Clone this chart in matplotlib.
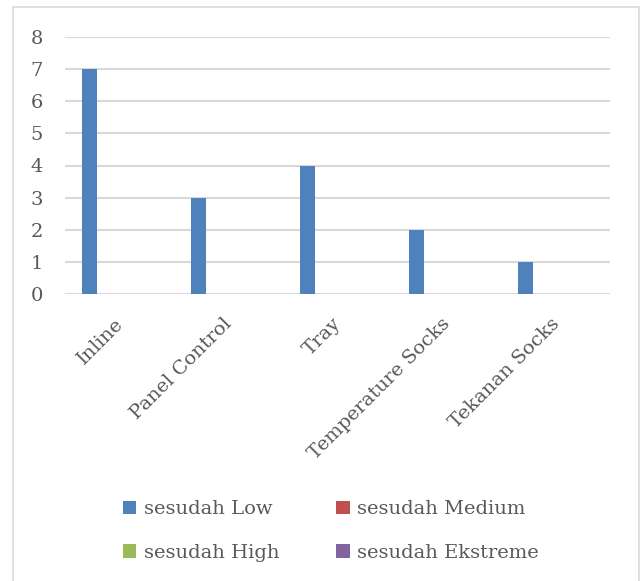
import matplotlib.pyplot as plt
from matplotlib.patches import Rectangle
import numpy as np

categories = ['Inline', 'Panel Control', 'Tray', 'Temperature Socks', 'Tekanan Socks']
series_names = ['sesudah Low', 'sesudah Medium', 'sesudah High', 'sesudah Ekstreme']
low = [7, 3, 4, 2, 1]
medium = [0, 0, 0, 0, 0]
high = [0, 0, 0, 0, 0]
ekstreme = [0, 0, 0, 0, 0]
colors = ['#4f81bd', '#c0504d', '#9bbb59', '#8064a2']

plt.rcParams['font.family'] = ['DejaVu Serif']
text_color = '#595959'
grid_color = '#d9d9d9'
fs = 14

fig = plt.figure(figsize=(6.41, 5.81), dpi=100)
# chart frame, runs off the bottom edge
fig.patches.append(Rectangle((13 / 641, -10 / 581), 626 / 641, 584 / 581,
                             transform=fig.transFigure, fill=False,
                             edgecolor=grid_color, linewidth=1.2))

ax = fig.add_axes([65 / 641, 1 - 294 / 581, 545 / 641, 257 / 581])

x = np.arange(len(categories))
width = 0.138
step = 0.17
for k, (vals, name) in enumerate(zip([low, medium, high, ekstreme], series_names)):
    ax.bar(x - 0.275 + k * step, vals, width, color=colors[k], label=name,
           linewidth=0, zorder=3)

ax.set_xlim(-0.5, len(categories) - 0.5)
ax.set_ylim(0, 8)
ax.set_yticks(range(0, 9))
ax.yaxis.grid(True, color=grid_color, linewidth=1.5, zorder=0)
for s in ax.spines.values():
    s.set_visible(False)
ax.tick_params(axis='both', length=0, colors=text_color, labelsize=fs)
ax.tick_params(axis='y', pad=16)

# rotated labels: anchor slightly left of the category centre
ax.set_xticks(x - 0.05)
ax.set_xticklabels(categories, rotation=45, ha='right', va='top',
                   rotation_mode='anchor')
ax.tick_params(axis='x', pad=15)

# row-major legend: Low, Medium / High, Ekstreme
handles, labels = ax.get_legend_handles_labels()
order = [0, 2, 1, 3]
leg = fig.legend([handles[i] for i in order], [labels[i] for i in order],
                 ncol=2, loc='center',
                 bbox_to_anchor=(331 / 641, 1 - 531 / 581), frameon=False,
                 fontsize=fs, handlelength=0.7, handleheight=0.7,
                 handletextpad=0.4, columnspacing=2.9, labelspacing=1.3)
for t in leg.get_texts():
    t.set_color(text_color)

fig.savefig('out.png', dpi=100)
